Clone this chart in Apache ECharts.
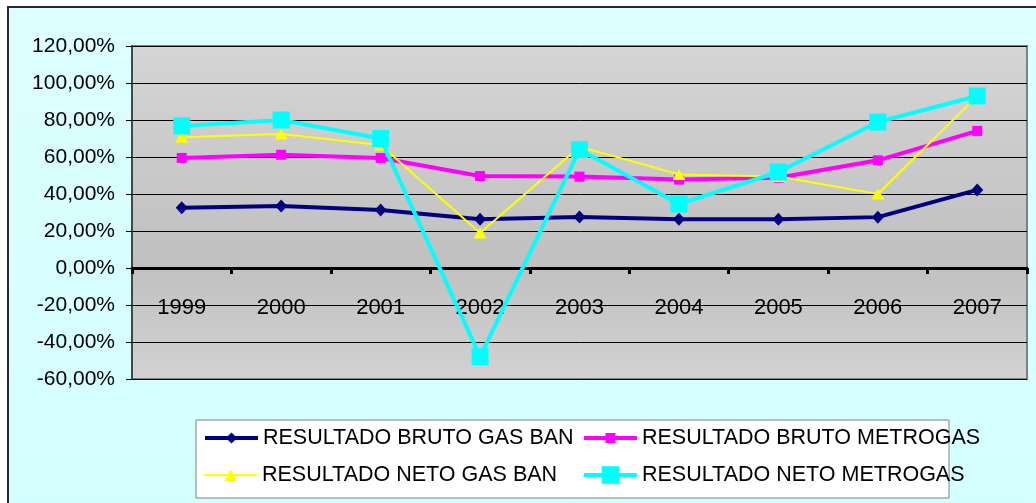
<!DOCTYPE html>
<html>
<head>
<meta charset="utf-8">
<script src="https://cdn.jsdelivr.net/npm/echarts@6/dist/echarts.min.js"></script>
<style>
html,body{margin:0;padding:0;background:#ffffff;}
#chart{width:1036px;height:503px;}
</style>
</head>
<body>
<div id="chart"></div>
<script>
var categories = ['1999','2000','2001','2002','2003','2004','2005','2006','2007'];
var brutoGasBan = [32.6, 33.5, 31.4, 26.3, 27.6, 26.4, 26.4, 27.5, 42.2];
var brutoMetrogas = [59.5, 61.2, 59.5, 49.7, 49.4, 47.8, 48.8, 58.2, 74.1];
var netoGasBan = [70.7, 72.4, 66.5, 18.9, 65.5, 50.6, 49.4, 40.0, 93.0];
var netoMetrogas = [76.8, 80.0, 70.0, -47.9, 64.0, 34.6, 51.9, 78.9, 93.0];
var seriesNames = ['RESULTADO BRUTO GAS BAN','RESULTADO BRUTO METROGAS','RESULTADO NETO GAS BAN','RESULTADO NETO METROGAS'];
var yTickValues = [-60, -40, -20, 0, 20, 40, 60, 80, 100, 120];

var FONT = "'Liberation Sans', Arial, sans-serif";
var chart = echarts.init(document.getElementById('chart'), null, {renderer:'canvas'});

function fmtPct(v){ return v.toFixed(2).replace('.', ',') + '%'; }

function legendFor(name, left, top, itemHeight, lineWidth){
  return { data:[{name:name, lineStyle:{width:lineWidth}}], orient:'vertical', left:left, top:top, z:10,
    itemWidth:53, itemHeight:itemHeight, selectedMode:false,
    textStyle:{fontFamily:FONT, fontSize:21.5, color:'#000', lineHeight:24} };
}

var option = {
  animation: false,
  backgroundColor: '#ffffff',
  graphic: [
    { type:'rect', z:-10, silent:true,
      shape:{x:8, y:7, width:1100, height:600},
      style:{ fill:{type:'linear',x:0,y:0,x2:0,y2:1,colorStops:[{offset:0,color:'#DDFFFF'},{offset:1,color:'#D3FFFF'}]},
              stroke:'#2a2a2a', lineWidth:2 } },
    { type:'rect', z:1, silent:true,
      shape:{x:196, y:420, width:753, height:78},
      style:{ fill:'#ffffff', stroke:'#808080', lineWidth:1 } }
  ],
  grid: {
    left:132, top:46, right:9, bottom:124,
    show:true,
    backgroundColor:{type:'linear',x:0,y:0,x2:0,y2:1,colorStops:[{offset:0,color:'#D5D5D5'},{offset:0.65,color:'#C0C0C0'},{offset:1,color:'#D2D2D2'}]},
    borderColor:'#808080', borderWidth:2
  },
  legend: [
    legendFor(seriesNames[0], 198, 421, 14, 4),
    legendFor(seriesNames[1], 577, 421, 12.5, 4),
    legendFor(seriesNames[2], 198, 458, 15, 2),
    legendFor(seriesNames[3], 577, 458, 22, 4)
  ],
  xAxis: {
    type:'category', data:categories, boundaryGap:true,
    axisLine:{onZero:true, lineStyle:{color:'#000', width:3}},
    axisTick:{show:true, inside:false, length:6, lineStyle:{color:'#000', width:3}},
    axisLabel:{fontFamily:FONT, fontSize:22, color:'#000', margin:-82},
    splitLine:{show:false}
  },
  yAxis: {
    type:'value', min:-60, max:120, interval:20,
    axisLine:{show:true, onZero:false, lineStyle:{color:'#333', width:1.5}},
    axisTick:{show:true, length:6, lineStyle:{color:'#000', width:1}},
    axisLabel:{fontFamily:FONT, fontSize:21, color:'#000', margin:17,
      formatter:function(v){ return yTickValues.indexOf(v) >= 0 ? fmtPct(v) : ''; }},
    splitLine:{show:true, lineStyle:{color:'#000', width:1}}
  },
  series: [
    { name:seriesNames[0], type:'line', data:brutoGasBan, z:2,
      symbol:'diamond', symbolSize:[12,13],
      lineStyle:{color:'#000080', width:4}, itemStyle:{color:'#000080'} },
    { name:seriesNames[1], type:'line', data:brutoMetrogas, z:3,
      symbol:'rect', symbolSize:10,
      lineStyle:{color:'#FF00FF', width:4}, itemStyle:{color:'#FF00FF'} },
    { name:seriesNames[2], type:'line', data:netoGasBan, z:4,
      symbol:'triangle', symbolSize:[13,11],
      lineStyle:{color:'#FFFF00', width:2}, itemStyle:{color:'#FFFF00'} },
    { name:seriesNames[3], type:'line', data:netoMetrogas, z:5,
      symbol:'rect', symbolSize:17,
      lineStyle:{color:'#00FFFF', width:4}, itemStyle:{color:'#00FFFF'} }
  ]
};
chart.setOption(option);
</script>
</body>
</html>
